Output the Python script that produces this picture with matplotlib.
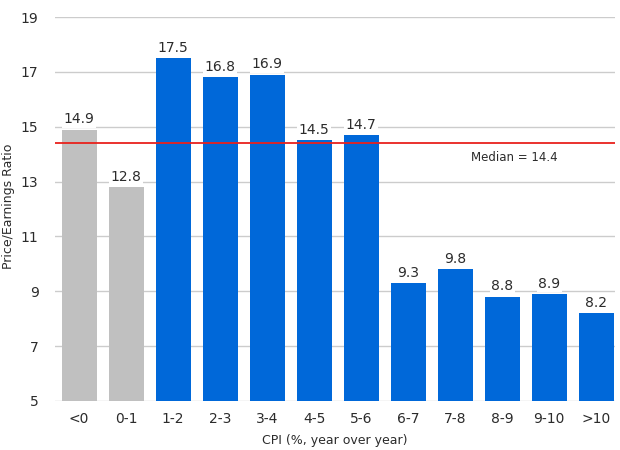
import matplotlib
matplotlib.use("Agg")
import matplotlib.pyplot as plt

categories = ["<0", "0-1", "1-2", "2-3", "3-4", "4-5", "5-6", "6-7", "7-8", "8-9", "9-10", ">10"]
pe_ratio = [14.9, 12.8, 17.5, 16.8, 16.9, 14.5, 14.7, 9.3, 9.8, 8.8, 8.9, 8.2]
deflation_or_low = ["<0", "0-1"]
median_pe = 14.4
y_ticks = [5, 7, 9, 11, 13, 15, 17, 19]

plt.rcParams["font.family"] = ["DejaVu Sans"]

fig = plt.figure(figsize=(6.2, 4.5), dpi=100)
ax = fig.add_axes([0.089, 0.109, 0.903, 0.853])

colors = ["#c0c0c0" if c in deflation_or_low else "#0068d9" for c in categories]
x = range(len(categories))
ax.bar(x, [v - 5 for v in pe_ratio], bottom=5, width=0.75, color=colors, zorder=2)

for xi, v in zip(x, pe_ratio):
    ax.text(xi, v + 0.12, f"{v:.1f}", ha="center", va="bottom", fontsize=10,
            color="#2b2b2b", zorder=3,
            bbox=dict(facecolor="white", edgecolor="none", pad=1))

ax.axhline(median_pe, color="#e8211c", linewidth=1.3, zorder=4)
ax.text(9.25, median_pe - 0.3, f"Median = {median_pe}", ha="center", va="top",
        fontsize=8.5, color="#2b2b2b")

ax.set_xlim(-0.51, 11.4)
ax.set_ylim(5, 19)
ax.set_yticks(y_ticks)
ax.set_xticks(list(x))
ax.set_xticklabels(categories)
ax.tick_params(axis="both", length=0, labelsize=10, labelcolor="#2b2b2b")
ax.tick_params(axis="y", pad=12)
ax.tick_params(axis="x", pad=8)
ax.grid(axis="y", color="#cccccc", linewidth=1, zorder=0)
for spine in ax.spines.values():
    spine.set_visible(False)

ax.set_xlabel("CPI (%, year over year)", fontsize=9, color="#2b2b2b", labelpad=6)
ax.set_ylabel("Price/Earnings Ratio", fontsize=9, color="#2b2b2b")
ax.yaxis.set_label_coords(-0.071, 0.508)

fig.savefig("out.png", dpi=100)
